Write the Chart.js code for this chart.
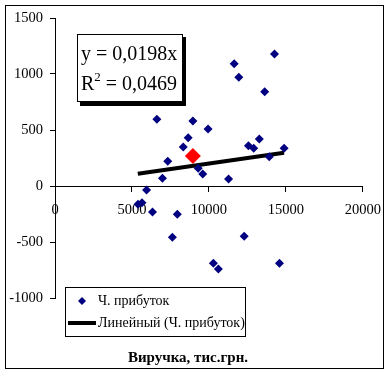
<!DOCTYPE html>
<html lang="uk">
<head>
    <meta charset="UTF-8">
    <title>Виручка / Ч. прибуток</title>
    <script src="https://cdn.jsdelivr.net/npm/chart.js"></script>
    <style>
        body { margin: 0; background: #fff; }
    </style>
</head>
<body>
    <canvas id="chart" width="391" height="375"></canvas>

    <script>
        // Revenue (x) and net profit (y)
        const revenue = [6617, 8956, 9942, 8654, 8332, 7326, 6980, 9300, 9600, 11276,
            11640, 11940, 14260, 13620, 13273, 12565, 12908, 13918, 14884, 5950,
            5650, 5392, 6335, 7947, 7625, 12290, 10290, 10612, 14582];
        const profit = [595, 580, 509, 431, 348, 220, 69, 158, 107, 62,
            1092, 970, 1178, 842, 420, 360, 336, 262, 336, -36,
            -149, -164, -232, -253, -458, -449, -690, -741, -690];

        // big red marker
        const markX = [8956];
        const markY = [268];

        // linear trend end points
        const trendX = [5380, 14880];
        const trendY = [110, 296];

        const xTicks = [0, 5000, 10000, 15000, 20000];
        const yTicks = [-1000, -500, 0, 500, 1000, 1500];

        const seriesName = 'Ч. прибуток';
        const trendName = 'Линейный (Ч. прибуток)';
        const xTitle = 'Виручка, тис.грн.';
        const eqLine = 'y = 0,0198x';
        const r2Value = ' = 0,0469';

        const SERIF = '"Liberation Serif", "Times New Roman", serif';
        const toPoints = (xs, ys) => xs.map((x, i) => ({ x: x, y: ys[i] }));

        // equation box, legend, frame and axis title
        const extras = {
            id: 'extras',
            afterDraw(chart) {
                const ctx = chart.ctx;
                ctx.save();

                // outer frame
                ctx.strokeStyle = '#000';
                ctx.lineWidth = 1;
                ctx.strokeRect(5.5, 5.5, 378, 363);

                // equation box with shadow
                ctx.fillStyle = '#000';
                ctx.fillRect(80, 37, 106, 69);
                ctx.fillStyle = '#fff';
                ctx.fillRect(77, 34, 106, 68);
                ctx.strokeRect(77.5, 34.5, 105, 67);
                ctx.fillStyle = '#000';
                ctx.textBaseline = 'alphabetic';
                ctx.textAlign = 'left';
                ctx.font = '20px ' + SERIF;
                ctx.fillText(eqLine, 81, 60);
                ctx.fillText('R', 81, 90);
                let w = ctx.measureText('R').width;
                ctx.font = '13px ' + SERIF;
                ctx.fillText('2', 81 + w, 81);
                w += ctx.measureText('2').width;
                ctx.font = '20px ' + SERIF;
                ctx.fillText(r2Value, 81 + w, 90);

                // legend
                const ds = chart.data.datasets;
                ctx.fillStyle = '#fff';
                ctx.fillRect(65, 287, 181, 50);
                ctx.strokeRect(65.5, 287.5, 180, 49);
                ctx.font = '14px ' + SERIF;
                ctx.textBaseline = 'middle';
                ctx.fillStyle = ds[1].backgroundColor;
                ctx.beginPath();
                ctx.moveTo(82, 297); ctx.lineTo(86, 301); ctx.lineTo(82, 305); ctx.lineTo(78, 301);
                ctx.closePath();
                ctx.fill();
                ctx.fillStyle = '#000';
                ctx.fillText(ds[1].label, 98, 301);
                ctx.fillRect(68, 321, 28, 4);
                ctx.fillText(ds[0].label, 98, 323);

                // x axis title
                ctx.font = 'bold 15px ' + SERIF;
                ctx.textAlign = 'center';
                ctx.fillText(xTitle, 188, 358);

                ctx.restore();
            }
        };

        new Chart(document.getElementById('chart'), {
            type: 'scatter',
            data: {
                datasets: [
                    {
                        label: trendName,
                        data: toPoints(trendX, trendY),
                        showLine: true,
                        borderColor: '#000',
                        borderWidth: 4,
                        pointRadius: 0,
                        order: 3
                    },
                    {
                        label: seriesName,
                        data: toPoints(revenue, profit),
                        pointStyle: 'rectRot',
                        pointRadius: 4.5,
                        backgroundColor: '#000080',
                        borderColor: '#000080',
                        borderWidth: 0,
                        order: 2
                    },
                    {
                        label: 'mark',
                        data: toPoints(markX, markY),
                        pointStyle: 'rectRot',
                        pointRadius: 8,
                        backgroundColor: '#ff0000',
                        borderColor: '#ff0000',
                        borderWidth: 0,
                        order: 1
                    }
                ]
            },
            options: {
                responsive: false,
                devicePixelRatio: 1,
                animation: false,
                layout: { padding: { left: 5, right: 26, top: 18, bottom: 77 } },
                plugins: {
                    legend: { display: false },
                    tooltip: { enabled: false }
                },
                scales: {
                    x: {
                        type: 'linear',
                        position: { y: 0 },
                        min: 0,
                        max: 20000,
                        afterFit: s => { s.height = 0; },
                        afterBuildTicks: s => { s.ticks = xTicks.map(v => ({ value: v })); },
                        ticks: {
                            color: '#000',
                            padding: 10,
                            maxRotation: 0,
                            font: { family: SERIF, size: 14.5 },
                            callback: v => String(v)
                        },
                        grid: { drawOnChartArea: false, drawTicks: true, tickLength: 5, color: '#000' },
                        border: { display: true, color: '#000' }
                    },
                    y: {
                        type: 'linear',
                        min: -1000,
                        max: 1500,
                        afterFit: s => { s.width = 50; },
                        afterBuildTicks: s => { s.ticks = yTicks.map(v => ({ value: v })); },
                        ticks: {
                            color: '#000',
                            padding: 7,
                            font: { family: SERIF, size: 14.5 },
                            callback: v => String(v)
                        },
                        grid: { drawOnChartArea: false, drawTicks: true, tickLength: 5, color: '#000' },
                        border: { display: true, color: '#000' }
                    }
                }
            },
            plugins: [extras]
        });
    </script>
</body>
</html>
